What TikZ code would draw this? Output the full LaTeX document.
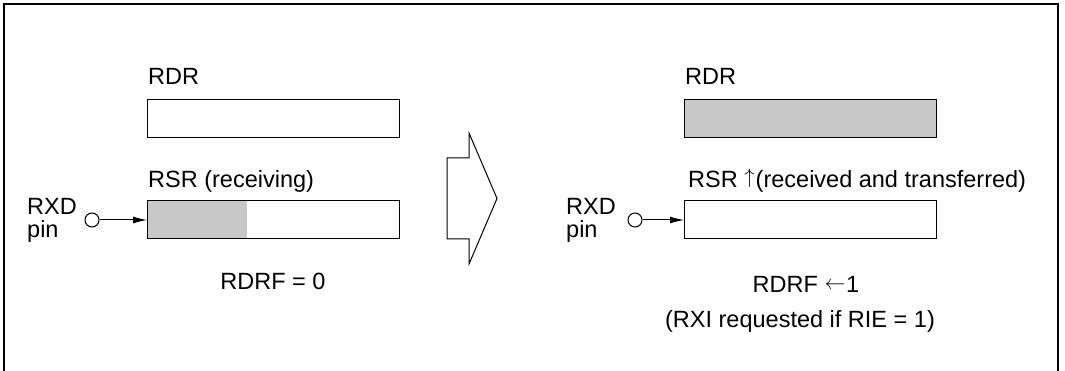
\documentclass[tikz,border=0pt]{standalone}
\usepackage{fontspec}
\setmainfont{Liberation Sans}
\usetikzlibrary{arrows.meta}
\definecolor{regfill}{RGB}{200,200,200}
\newcommand{\myup}{\raisebox{4pt}{\fontsize{22}{24}\selectfont$\uparrow$}}
\newcommand{\myleft}{\raisebox{2pt}{\fontsize{22}{24}\selectfont$\leftarrow$}}
\tikzset{
  lbl/.style={inner sep=0pt, anchor=base west, font=\fontsize{23.5}{28}\selectfont},
  clbl/.style={inner sep=0pt, anchor=base, font=\fontsize{23.5}{28}\selectfont},
  regbox/.style={draw, line width=1.2pt, minimum width=252pt, minimum height=38pt, inner sep=0pt, anchor=north west},
  pinc/.style={draw, circle, line width=1pt, minimum size=14pt, inner sep=0pt},
  conn/.style={line width=1pt, -{Latex[length=14pt,width=7pt]}},
}
\begin{document}
\begin{tikzpicture}[x=1pt,y=-1pt]
\useasboundingbox (0,0) rectangle (1065,371);
% frame
\draw[line width=1.5pt] (4,371) -- (4,4) -- (1058,4) -- (1058,371);

% left side
\node[lbl] (rdr1l) at (148,85) {RDR};
\node[regbox] (rdr1) at (147,99) {};
\node[lbl] (rsr1l) at (148,188) {RSR (receiving)};
\node[regbox, path picture={\fill[regfill] (path picture bounding box.south west) rectangle ([xshift=99pt]path picture bounding box.north west);}] (rsr1) at (147,200) {};
\node[lbl] (rxd1) at (27,215) {RXD};
\node[lbl] (pin1) at (27,238) {pin};
\node[pinc] (c1) at (92,220) {};
\draw[conn] (c1.east) -- (c1.east -| rsr1.west);
\node[clbl] (rdrf1) at (273,289) {RDRF = 0};

% block arrow
\draw[line width=1pt, line join=miter] (447,158) -- (469,158) -- (469,133) -- (497,198.5) -- (469,264) -- (469,239) -- (447,239) -- cycle;

% right side
\node[lbl] (rdr2l) at (685,85) {RDR};
\node[regbox, fill=regfill] (rdr2) at (684,99) {};
\node[lbl] (rsr2l) at (688,188) {RSR \myup\kern1pt(received and transferred)};
\node[regbox] (rsr2) at (684,200) {};
\node[lbl] (rxd2) at (566,215) {RXD};
\node[lbl] (pin2) at (566,238) {pin};
\node[pinc] (c2) at (635,220) {};
\draw[conn] (c2.east) -- (c2.east -| rsr2.west);
\node[clbl] (rdrf2) at (806,292) {RDRF \myleft\kern1pt 1};
\node[clbl] (rxi) at (800,327) {(RXI requested if RIE = 1)};
\end{tikzpicture}
\end{document}
